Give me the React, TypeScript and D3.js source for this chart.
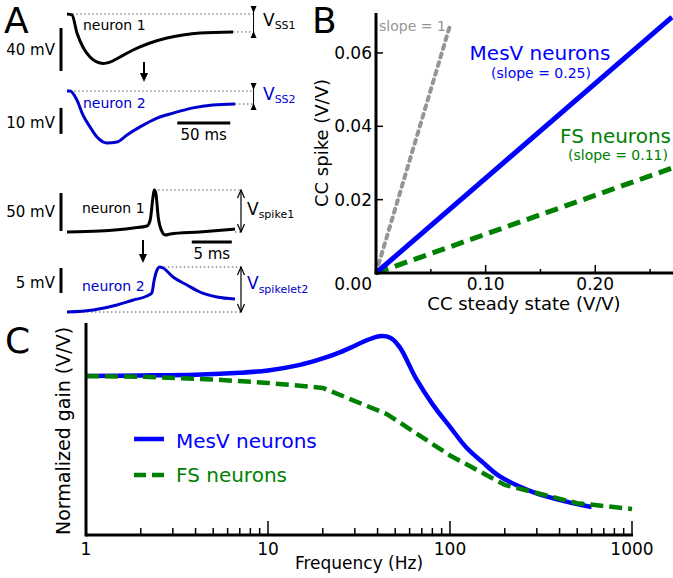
import React from "react";
import * as d3 from "d3";

// ---- panel A: example traces (time in ms, voltage in mV relative to baseline)
const ssNeuron1: [number, number][] = [
  [0, 0], [4.7, -0.9], [9.4, -17.7], [15, -30.7], [21.7, -40], [28, -44.5],
  [34, -46], [40.6, -44.8], [50, -40], [62.3, -33.5], [78.3, -27], [94.3, -22.3],
  [109.4, -19.5], [125.5, -17.7], [156.6, -16.7],
];
const ssNeuron2: [number, number][] = [
  [0, 0], [2.8, 0], [9.4, -3.5], [15, -9.2], [21.7, -13.8], [28.3, -17.7],
  [37.7, -20], [47.2, -19.6], [56.6, -16.9], [68.9, -13.8], [84.9, -10.4],
  [100, -8.5], [118.9, -6.5], [137.7, -5.4], [158.5, -5],
];
const spikeNeuron1: [number, number][] = [
  [0, 0], [4.1, 1.3], [8.3, 5.3], [10, 7.9], [10.4, 15.8], [10.75, 46],
  [10.9, 55.3], [11.1, 51.3], [11.4, 19.7], [11.9, 0], [12.3, -3.9],
  [12.9, -2.6], [16.6, 0], [21, 3.9],
];
const spikeletNeuron2: [number, number][] = [
  [0, 0], [3.3, 0.4], [6.25, 1.4], [8.3, 2.4], [10, 3.2], [10.6, 3.8],
  [10.9, 6.4], [11.25, 8.4], [11.6, 9], [12, 8.8], [13.25, 7], [15, 5.4],
  [16.6, 4], [18.75, 3], [21, 2.6],
];

// ---- panel B: coupling coefficients
const ccSteady = [0, 0.27];
const ccSpikeMesV = [0, 0.0698];
const ccSpikeFS = [0, 0.0286];
const unityX = [0, 0.068];
const bYTicks = [0.02, 0.04, 0.06];
const bXTicks = [0.1, 0.2];
const bXMinor = [0.05, 0.15, 0.25];

// ---- panel C: frequency response
const freqMesV = [1, 2, 4, 7, 10, 15, 20, 25, 30, 35, 41, 47, 53, 65, 81, 100, 123, 152, 187, 286, 436, 600];
const gainMesV = [1.0, 1.003, 1.008, 1.02, 1.035, 1.07, 1.11, 1.15, 1.19, 1.225, 1.25, 1.24, 1.18, 0.985, 0.815, 0.68, 0.55, 0.455, 0.37, 0.27, 0.21, 0.176];
const freqFS = [1, 2, 5, 10, 20, 45, 100, 200, 500, 1000];
const gainFS = [1.0, 0.995, 0.978, 0.956, 0.925, 0.76, 0.5, 0.315, 0.2, 0.164];
const cMajor = [1, 10, 100, 1000];

const FONT = "DejaVu Sans, Verdana, sans-serif";
const BLUE = "#0000ff";
const BLUE_A = "#0000cc";
const GREEN = "#008000";
const DOT = "#555";

const Arrow = ({ x, y1, y2 }: { x: number; y1: number; y2: number }) => (
  <g>
    <line x1={x} x2={x} y1={y1} y2={y2 - 7} stroke="black" strokeWidth={2} />
    <path d={`M${x - 4},${y2 - 9} L${x + 4},${y2 - 9} L${x},${y2} Z`} fill="black" />
  </g>
);

// short "I"-shaped bracket used for the steady state amplitudes
const SmallBracket = ({ x, y1, y2 }: { x: number; y1: number; y2: number }) => (
  <g>
    <line x1={x} x2={x} y1={y1 - 8} y2={y2 + 6} stroke="black" strokeWidth={1} />
    <path d={`M${x - 3},${y1 - 8} L${x + 3},${y1 - 8} L${x},${y1 - 1} Z`} fill="black" />
    <path d={`M${x - 3},${y2 + 6} L${x + 3},${y2 + 6} L${x},${y2 - 1} Z`} fill="black" />
  </g>
);

const DoubleArrow = ({ x, y1, y2 }: { x: number; y1: number; y2: number }) => (
  <g stroke="black" strokeWidth={1.2} fill="none">
    <line x1={x} x2={x} y1={y1} y2={y2} />
    <path d={`M${x - 3.5},${y1 + 8} L${x},${y1} L${x + 3.5},${y1 + 8}`} />
    <path d={`M${x - 3.5},${y2 - 8} L${x},${y2} L${x + 3.5},${y2 - 8}`} />
  </g>
);

const PanelA = () => {
  // time / voltage scales, each matched to its scale bar
  const t1x = d3.scaleLinear().domain([0, 50]).range([67, 120]);
  const t1y = d3.scaleLinear().domain([0, -40]).range([14, 57]);
  const t2y = d3.scaleLinear().domain([0, -10]).range([91, 117]);
  const s1x = d3.scaleLinear().domain([0, 5]).range([67, 107]);
  const s1y = d3.scaleLinear().domain([0, 50]).range([232, 194]);
  const s2y = d3.scaleLinear().domain([0, 5]).range([312, 287]);

  const mk = (xs: d3.ScaleLinear<number, number>, ys: d3.ScaleLinear<number, number>) =>
    d3.line<[number, number]>().x((d) => xs(d[0])).y((d) => ys(d[1])).curve(d3.curveMonotoneX);

  const bx = t1x(176);
  const sx = s1x(21.75);
  const end1 = ssNeuron1[ssNeuron1.length - 1];
  const end2 = ssNeuron2[ssNeuron2.length - 1];
  const end3 = spikeNeuron1[spikeNeuron1.length - 1];
  const peak1 = spikeNeuron1.reduce((a, b) => (b[1] > a[1] ? b : a));
  const peak2 = spikeletNeuron2.reduce((a, b) => (b[1] > a[1] ? b : a));

  return (
    <g fontFamily={FONT}>
      <text x={4} y={33} fontSize={36}>A</text>

      {/* steady state pair */}
      <g stroke={DOT} strokeWidth={1} strokeDasharray="1.5,2.5">
        <line x1={t1x(5)} x2={bx} y1={t1y(0)} y2={t1y(0)} />
        <line x1={t1x(end1[0])} x2={bx} y1={t1y(end1[1])} y2={t1y(end1[1])} />
        <line x1={t1x(3)} x2={bx} y1={t2y(0)} y2={t2y(0)} />
        <line x1={t1x(end2[0])} x2={bx} y1={t2y(end2[1])} y2={t2y(end2[1])} />
      </g>
      <path d={mk(t1x, t1y)(ssNeuron1) ?? ""} fill="none" stroke="black" strokeWidth={3} />
      <path d={mk(t1x, t2y)(ssNeuron2) ?? ""} fill="none" stroke={BLUE_A} strokeWidth={3} />
      <SmallBracket x={bx} y1={t1y(0)} y2={t1y(end1[1])} />
      <SmallBracket x={bx} y1={t2y(0)} y2={t2y(end2[1])} />

      <text x={83} y={30} fontSize={14}>neuron 1</text>
      <text x={83} y={108} fontSize={14} fill={BLUE_A}>neuron 2</text>
      <line x1={61} x2={61} y1={t1y(-13)} y2={t1y(-53)} stroke="black" strokeWidth={3} />
      <text x={55} y={55} fontSize={15} textAnchor="end">40 mV</text>
      <line x1={61} x2={61} y1={t2y(-6.5)} y2={t2y(-16.5)} stroke="black" strokeWidth={3} />
      <text x={55} y={128} fontSize={15} textAnchor="end">10 mV</text>
      <line x1={t1x(104)} x2={t1x(154)} y1={123} y2={123} stroke="black" strokeWidth={3} />
      <text x={(t1x(104) + t1x(154)) / 2} y={140} fontSize={15} textAnchor="middle">50 ms</text>
      <Arrow x={144} y1={62} y2={82} />
      <text x={263} y={26} fontSize={17}>V<tspan fontSize={11} dy={3}>SS1</tspan></text>
      <text x={263} y={100} fontSize={17} fill={BLUE_A}>V<tspan fontSize={11} dy={3}>SS2</tspan></text>

      {/* spike pair */}
      <g stroke={DOT} strokeWidth={1} strokeDasharray="1.5,2.5">
        <line x1={s1x(peak1[0])} x2={sx} y1={s1y(peak1[1])} y2={s1y(peak1[1])} />
        <line x1={s1x(end3[0])} x2={sx} y1={s1y(0)} y2={s1y(0)} />
        <line x1={s1x(peak2[0])} x2={sx} y1={s2y(peak2[1])} y2={s2y(peak2[1])} />
        <line x1={s1x(0)} x2={sx} y1={s2y(0)} y2={s2y(0)} />
      </g>
      <path d={mk(s1x, s1y)(spikeNeuron1) ?? ""} fill="none" stroke="black" strokeWidth={3} />
      <path d={mk(s1x, s2y)(spikeletNeuron2) ?? ""} fill="none" stroke={BLUE_A} strokeWidth={3} />
      <DoubleArrow x={sx} y1={s1y(peak1[1])} y2={s1y(0)} />
      <DoubleArrow x={sx} y1={s2y(peak2[1])} y2={s2y(0)} />

      <text x={82} y={213} fontSize={14}>neuron 1</text>
      <text x={82} y={291} fontSize={14} fill={BLUE_A}>neuron 2</text>
      <line x1={61} x2={61} y1={s1y(51.3)} y2={s1y(1.3)} stroke="black" strokeWidth={3} />
      <text x={55} y={217} fontSize={15} textAnchor="end">50 mV</text>
      <line x1={61} x2={61} y1={s2y(8.8)} y2={s2y(3.8)} stroke="black" strokeWidth={3} />
      <text x={55} y={288} fontSize={15} textAnchor="end">5 mV</text>
      <line x1={s1x(15.6)} x2={s1x(20.6)} y1={242} y2={242} stroke="black" strokeWidth={3} />
      <text x={(s1x(15.6) + s1x(20.6)) / 2} y={259} fontSize={15} textAnchor="middle">5 ms</text>
      <Arrow x={143} y1={240} y2={263} />
      <text x={247} y={215} fontSize={17}>V<tspan fontSize={11} dy={3}>spike1</tspan></text>
      <text x={247} y={289} fontSize={17} fill={BLUE_A}>V<tspan fontSize={11} dy={4}>spikelet2</tspan></text>
    </g>
  );
};

const PanelB = () => {
  const x = d3.scaleLinear().domain([0, 0.27]).range([376, 672]);
  const y = d3.scaleLinear().domain([0, 0.0709]).range([273, 13]);
  const line = d3.line<[number, number]>().x((d) => x(d[0])).y((d) => y(d[1]));
  const mesv: [number, number][] = ccSteady.map((c, i) => [c, ccSpikeMesV[i]]);
  const fs: [number, number][] = ccSteady.map((c, i) => [c, ccSpikeFS[i]]);
  const unity: [number, number][] = unityX.map((c) => [c, c]);
  const fmt = d3.format(".2f");

  return (
    <g fontFamily={FONT}>
      <text x={312} y={33} fontSize={36}>B</text>
      <path d={line(unity) ?? ""} stroke="#959595" strokeWidth={4} strokeDasharray="4,5" strokeLinecap="round" fill="none" />
      <path d={line(fs) ?? ""} stroke={GREEN} strokeWidth={5} strokeDasharray="13,7" fill="none" />
      <path d={line(mesv) ?? ""} stroke={BLUE} strokeWidth={5} fill="none" />

      <line x1={x(0)} x2={x(0)} y1={y.range()[1]} y2={y(0) + 1.5} stroke="black" strokeWidth={3} />
      <line x1={x(0)} x2={673} y1={y(0)} y2={y(0)} stroke="black" strokeWidth={3} />
      {bYTicks.map((t) => (
        <g key={t}>
          <line x1={x(0)} x2={x(0) + 7} y1={y(t)} y2={y(t)} stroke="black" strokeWidth={1.5} />
          <text x={372} y={y(t) + 6} fontSize={17} textAnchor="end">{fmt(t)}</text>
        </g>
      ))}
      {bXTicks.map((t) => (
        <g key={t}>
          <line x1={x(t)} x2={x(t)} y1={y(0)} y2={y(0) - 8} stroke="black" strokeWidth={1.5} />
          <text x={x(t)} y={290} fontSize={17} textAnchor="middle">{fmt(t)}</text>
        </g>
      ))}
      {bXMinor.map((t) => (
        <line key={t} x1={x(t)} x2={x(t)} y1={y(0)} y2={y(0) - 4} stroke="black" strokeWidth={1.5} />
      ))}
      <text x={372} y={290} fontSize={17} textAnchor="end">{fmt(0)}</text>

      <text x={524} y={310} fontSize={18} textAnchor="middle">CC steady state (V/V)</text>
      <text transform="translate(328,143) rotate(-90)" fontSize={18} textAnchor="middle">CC spike (V/V)</text>

      <text x={379} y={31} fontSize={14} fill="#959595">slope = 1</text>
      <text x={540} y={60} fontSize={20} fill={BLUE} textAnchor="middle">MesV neurons</text>
      <text x={541} y={78} fontSize={14} fill={BLUE} textAnchor="middle">(slope = 0.25)</text>
      <text x={560} y={143} fontSize={20} fill={GREEN}>FS neurons</text>
      <text x={568} y={160} fontSize={14} fill={GREEN}>(slope = 0.11)</text>
    </g>
  );
};

const PanelC = () => {
  const x = d3.scaleLog().domain([1, 1000]).range([86, 632]);
  const y = d3.scaleLinear().domain([0, 1.333]).range([535, 323]);
  const mesv: [number, number][] = freqMesV.map((f, i) => [f, gainMesV[i]]);
  const fs: [number, number][] = freqFS.map((f, i) => [f, gainFS[i]]);
  const smooth = d3.line<[number, number]>().x((d) => x(d[0])).y((d) => y(d[1])).curve(d3.curveCatmullRom.alpha(0.5));
  const straight = d3.line<[number, number]>().x((d) => x(d[0])).y((d) => y(d[1]));
  const minor = x.ticks().filter((t) => !cMajor.includes(t));

  return (
    <g fontFamily={FONT}>
      <text x={5} y={353} fontSize={36}>C</text>
      <path d={smooth(mesv) ?? ""} stroke={BLUE} strokeWidth={4.5} fill="none" />
      <path d={straight(fs) ?? ""} stroke={GREEN} strokeWidth={4.5} strokeDasharray="13,6" fill="none" />

      <line x1={x(1)} x2={x(1)} y1={y.range()[1]} y2={y(0) + 1.5} stroke="black" strokeWidth={3} />
      <line x1={x(1)} x2={x(1000) + 1} y1={y(0)} y2={y(0)} stroke="black" strokeWidth={3} />
      {cMajor.map((t) => (
        <g key={t}>
          {t > 1 && <line x1={x(t)} x2={x(t)} y1={y(0)} y2={y(0) - 14} stroke="black" strokeWidth={1.5} />}
          <text x={x(t)} y={555} fontSize={17} textAnchor="middle">{t}</text>
        </g>
      ))}
      {minor.map((t) => (
        <line key={t} x1={x(t)} x2={x(t)} y1={y(0)} y2={y(0) - 7} stroke="black" strokeWidth={1.5} />
      ))}
      <text x={359} y={569} fontSize={17} textAnchor="middle">Frequency (Hz)</text>
      <text transform="translate(70,431) rotate(-90)" fontSize={19} textAnchor="middle">Normalized gain (V/V)</text>

      <line x1={134} x2={164} y1={439} y2={439} stroke={BLUE} strokeWidth={4.5} />
      <text x={176} y={448} fontSize={20} fill={BLUE}>MesV neurons</text>
      <line x1={134} x2={164} y1={475} y2={475} stroke={GREEN} strokeWidth={4.5} strokeDasharray="12,6" />
      <text x={176} y={482} fontSize={20} fill={GREEN}>FS neurons</text>
    </g>
  );
};

export default function App() {
  return (
    <svg width={673} height={578} style={{ position: "absolute", left: 0, top: 0, background: "white" }}>
      <PanelA />
      <PanelB />
      <PanelC />
    </svg>
  );
}
